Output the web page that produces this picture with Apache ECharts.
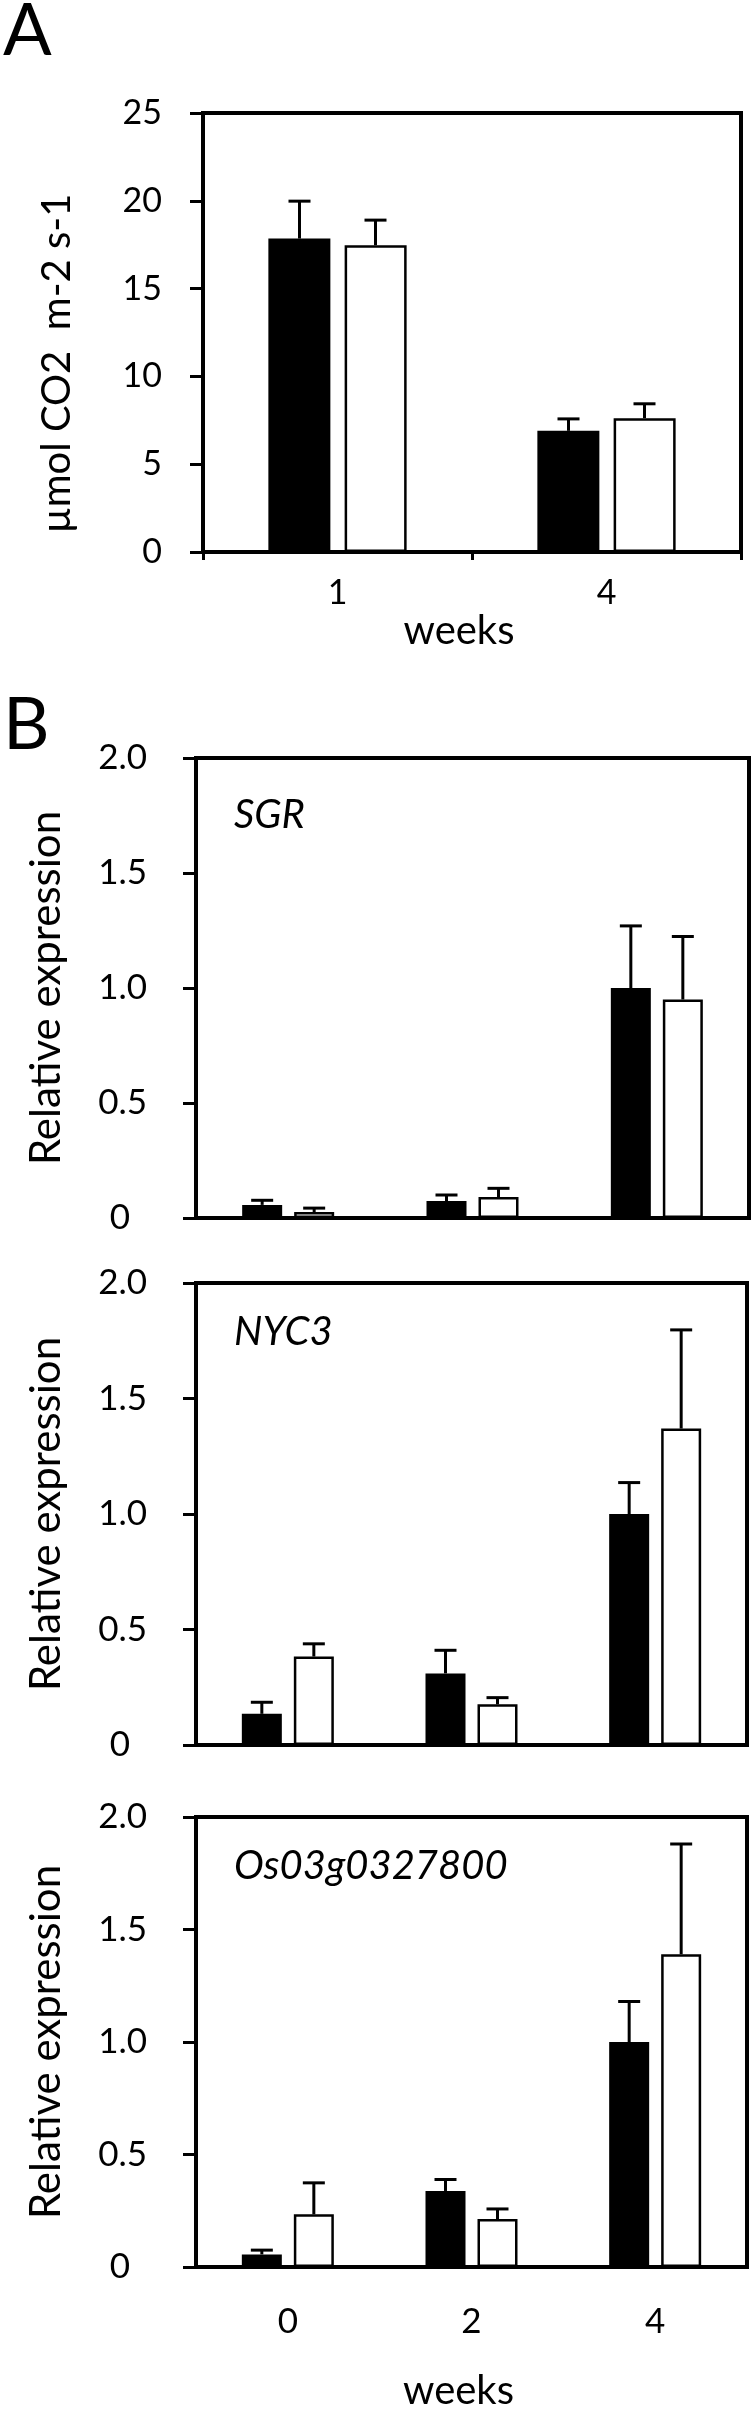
<!DOCTYPE html>
<html>
<head>
<meta charset="utf-8">
<script src="https://cdn.jsdelivr.net/npm/echarts@6/dist/echarts.min.js"></script>
<style>
html, body { margin: 0; padding: 0; background: #fff; }
#main { width: 755px; height: 2412px; }
</style>
</head>
<body>
<div id="main"></div>
<script>
// panel A: photosynthesis rate, weeks 1 and 4
var weeksA = ['1', '4']
var aBlack = [17.85, 6.9]
var aBlackSd = [2.13, 0.68]
var aWhite = [17.47, 7.62]
var aWhiteSd = [1.43, 0.82]

// panel B: relative expression, weeks 0, 2, 4
var weeksB = ['0', '2', '4']
var genes = ['SGR', 'NYC3', 'Os03g0327800']
var sgrBlack = [0.057, 0.074, 1.0]
var sgrBlackSd = [0.02, 0.026, 0.27]
var sgrWhite = [0.026, 0.091, 0.95]
var sgrWhiteSd = [0.017, 0.038, 0.274]
var nycBlack = [0.135, 0.31, 1.0]
var nycBlackSd = [0.05, 0.10, 0.136]
var nycWhite = [0.383, 0.176, 1.37]
var nycWhiteSd = [0.055, 0.029, 0.427]
var osBlack = [0.056, 0.338, 1.0]
var osBlackSd = [0.019, 0.051, 0.18]
var osWhite = [0.234, 0.213, 1.39]
var osWhiteSd = [0.14, 0.045, 0.49]

var font = 'Lato'
var chart = echarts.init(document.getElementById('main'))

// 误差线 (only the upper half)
function errorBar (offset) {
  return function (params, api) {
    var base = api.coord([api.value(0), api.value(1)])
    var top = api.coord([api.value(0), api.value(1) + api.value(2)])
    var x = base[0] + offset
    var st = { stroke: '#000', lineWidth: 3 }
    return {
      type: 'group',
      children: [
        { type: 'line', shape: { x1: x, y1: base[1], x2: x, y2: top[1] }, style: st },
        { type: 'line', shape: { x1: x - 11, y1: top[1], x2: x + 11, y2: top[1] }, style: st }
      ]
    }
  }
}

function pairs (means, sds) {
  return means.map(function (m, i) { return [i, m, sds[i]] })
}

var grids = [
  { left: 203, top: 113, width: 538, height: 439 },
  { left: 196, top: 758, width: 553, height: 460 },
  { left: 196, top: 1283, width: 551, height: 462 },
  { left: 196, top: 1817, width: 551, height: 461 }
]
grids.forEach(function (g) {
  g.show = true
  g.borderColor = '#000'
  g.borderWidth = 4
})

var xAxes = [{
  gridIndex: 0,
  type: 'category',
  data: weeksA,
  axisLine: { lineStyle: { color: '#000', width: 4 } },
  axisTick: { show: true, length: 8, lineStyle: { color: '#000', width: 3 } },
  axisLabel: { color: '#000', fontSize: 34, fontFamily: font, margin: 24 },
  name: 'weeks',
  nameLocation: 'middle',
  nameGap: 28,
  nameTextStyle: { color: '#000', fontSize: 40, fontFamily: font, padding: [0, 26, 0, 0] }
}]
var yAxes = [{
  gridIndex: 0,
  type: 'value',
  min: 0,
  max: 25,
  interval: 5,
  splitLine: { show: false },
  axisLine: { show: true, lineStyle: { color: '#000', width: 4 } },
  axisTick: { show: true, length: 13, lineStyle: { color: '#000', width: 3 } },
  axisLabel: { color: '#000', fontSize: 34, fontFamily: font, margin: 41 },
  name: 'µmol CO2  m-2 s-1',
  nameLocation: 'middle',
  nameRotate: 90,
  nameGap: 126,
  nameTextStyle: { color: '#000', fontSize: 40, fontFamily: font, padding: [0, 62, 0, 0] }
}]

for (var k = 1; k <= 3; k++) {
  var last = k === 3
  xAxes.push({
    gridIndex: k,
    type: 'category',
    data: weeksB,
    axisLine: { lineStyle: { color: '#000', width: 4 } },
    axisTick: { show: false },
    axisLabel: { show: last, color: '#000', fontSize: 35, fontFamily: font, margin: 37 },
    name: last ? 'weeks' : '',
    nameLocation: 'middle',
    nameGap: 104,
    nameTextStyle: { color: '#000', fontSize: 40, fontFamily: font, padding: [0, 26, 0, 0] }
  })
  yAxes.push({
    gridIndex: k,
    type: 'value',
    min: 0,
    max: 2,
    interval: 0.5,
    splitLine: { show: false },
    axisLine: { show: true, lineStyle: { color: '#000', width: 4 } },
    axisTick: { show: true, length: 13, lineStyle: { color: '#000', width: 3 } },
    axisLabel: {
      color: '#000',
      fontSize: 35,
      fontFamily: font,
      margin: 49,
      formatter: function (v) { return v === 0 ? '{z|0}' : v.toFixed(1) },
      rich: { z: { color: '#000', fontSize: 35, fontFamily: font, padding: [0, 17, 0, 0] } }
    },
    name: 'Relative expression',
    nameLocation: 'middle',
    nameRotate: 90,
    nameGap: 129,
    nameTextStyle: { color: '#000', fontSize: 42, fontFamily: font }
  })
}

var panels = [
  [aBlack, aBlackSd, aWhite, aWhiteSd, 62, '23%', 38],
  [sgrBlack, sgrBlackSd, sgrWhite, sgrWhiteSd, 40, '30%', 26],
  [nycBlack, nycBlackSd, nycWhite, nycWhiteSd, 40, '30%', 26],
  [osBlack, osBlackSd, osWhite, osWhiteSd, 40, '30%', 26]
]
var series = []
panels.forEach(function (p, i) {
  series.push({
    type: 'bar', xAxisIndex: i, yAxisIndex: i, data: p[0],
    barWidth: p[4], barGap: p[5], itemStyle: { color: '#000' }
  })
  series.push({
    type: 'bar', xAxisIndex: i, yAxisIndex: i, data: p[2],
    barWidth: p[4], barGap: p[5],
    itemStyle: { color: '#fff', borderColor: '#000', borderWidth: 2.5 }
  })
  series.push({
    type: 'custom', xAxisIndex: i, yAxisIndex: i, z: 5,
    renderItem: errorBar(-p[6]), data: pairs(p[0], p[1])
  })
  series.push({
    type: 'custom', xAxisIndex: i, yAxisIndex: i, z: 5,
    renderItem: errorBar(p[6]), data: pairs(p[2], p[3])
  })
})

var big = { color: '#000', fontSize: 72, fontWeight: 'normal', fontFamily: font }
var gene = { color: '#000', fontSize: 40, fontWeight: 'normal', fontStyle: 'italic', fontFamily: font }
chart.setOption({
  animation: false,
  backgroundColor: '#fff',
  title: [
    { text: 'A', left: 3, top: -4, padding: 0, textStyle: big },
    { text: 'B', left: 3, top: 690, padding: 0, textStyle: big },
    { text: genes[0], left: 234, top: 795, padding: 0, textStyle: gene },
    { text: genes[1], left: 234, top: 1312, padding: 0, textStyle: gene },
    { text: genes[2], left: 234, top: 1846, padding: 0, textStyle: gene }
  ],
  grid: grids,
  xAxis: xAxes,
  yAxis: yAxes,
  series: series
})
</script>
</body>
</html>
